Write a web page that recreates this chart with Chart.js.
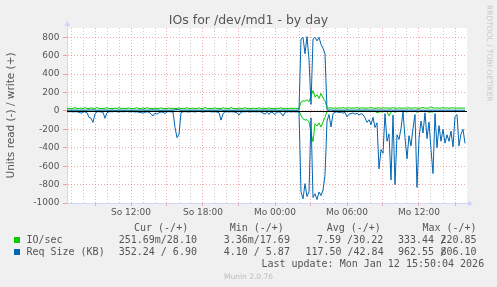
<!DOCTYPE html>
<html>
<head>
<meta charset="utf-8">
<script src="https://cdn.jsdelivr.net/npm/chart.js@4.4.1/dist/chart.umd.min.js"></script>
<style>
  html, body { margin: 0; padding: 0; background: #f0f0f0; }
  #wrap { position: relative; width: 497px; height: 287px; overflow: hidden; font-family: "DejaVu Sans", sans-serif; color: #555; }
  #wrap canvas { position: absolute; left: 0; top: 0; }
  .t { position: absolute; white-space: pre; }
  .mono { font-family: "DejaVu Sans Mono", monospace; font-size: 10px; line-height: 10px; }
  .box { position: absolute; width: 6px; height: 6px; left: 14px; }
</style>
</head>
<body>
<div id="wrap">
  <canvas id="iochart" width="497" height="287"></canvas>
  <div class="t" style="left:0;width:497px;text-align:center;top:14px;font-size:12.5px;line-height:12.5px;">IOs for /dev/md1 - by day</div>
  <div class="t" style="left:492.6px;top:5px;font-size:7.5px;line-height:7.5px;color:#c8c8c8;transform-origin:0 0;transform:rotate(90deg);">RRDTOOL / TOBI OETIKER</div>

  <div class="t mono" style="left:134px;top:222.6px;">Cur (-/+)</div>
  <div class="t mono" style="left:229.7px;top:222.6px;">Min (-/+)</div>
  <div class="t mono" style="left:326.7px;top:222.6px;">Avg (-/+)</div>
  <div class="t mono" style="left:422.4px;top:222.6px;">Max (-/+)</div>

  <div class="box" style="top:237px;background:#00cc00;"></div>
  <div class="t mono" style="left:26.4px;top:234.8px;">IO/sec</div>
  <div class="t mono" style="left:118.7px;top:234.8px;">251.69m/28.10</div>
  <div class="t mono" style="left:223.7px;top:234.8px;">3.36m/17.69</div>
  <div class="t mono" style="left:317px;top:234.8px;">7.59 /30.22</div>
  <div class="t mono" style="left:398px;top:234.8px;">333.44 /</div>
  <div class="t mono" style="left:440.4px;top:234.8px;">220.85</div>

  <div class="box" style="top:249px;background:#0066b3;"></div>
  <div class="t mono" style="left:26.4px;top:246.8px;">Req Size (KB)</div>
  <div class="t mono" style="left:118.7px;top:246.8px;">352.24 / 6.90</div>
  <div class="t mono" style="left:223.7px;top:246.8px;">4.10 / 5.87</div>
  <div class="t mono" style="left:305.4px;top:246.8px;">117.50 /42.84</div>
  <div class="t mono" style="left:398px;top:246.8px;">962.55 /</div>
  <div class="t mono" style="left:440.4px;top:246.8px;">806.10</div>

  <div class="t mono" style="left:261.4px;top:258.8px;">Last update: Mon Jan 12 15:50:04 2026</div>
  <div class="t" style="left:0;width:497px;text-align:center;top:273px;font-size:7.5px;line-height:7.5px;color:#bbbbbb;">Munin 2.0.76</div>
</div>

<script>
// one sample every 10 minutes, first one at So 06:40
var startHour = 6 + 40 / 60;

var tickHours = [12, 18, 24, 30, 36];
var tickLabels = ["So 12:00", "So 18:00", "Mo 00:00", "Mo 06:00", "Mo 12:00"];
var yTicks = [-1000, -900, -800, -700, -600, -500, -400, -300, -200, -100, 0, 100, 200, 300, 400, 500, 600, 700, 800, 900];

// Req Size (KB), read (drawn negative)
var sizeRead = [
  -8, -10, -6, -12, -8, -10, -14, -25, -12, -10,
  -20, -70, -80, -125, -30, -10, -8, -12, -15, -80,
  -20, -10, -8, -10, -6, -9, -12, -7, -10, -8,
  -6, -11, -9, -8, -12, -10, -15, -18, -25, -14,
  -10, -15, -30, -55, -25, -35, -20, -12, -15, -28,
  -10, -8, -10, -12, -180, -290, -255, -20, -10, -8,
  -10, -12, -7, -9, -11, -8, -6, -10, -12, -9,
  -8, -7, -10, -11, -9, -12, -20, -100, -30, -10,
  -8, -12, -9, -10, -14, -20, -45, -15, -9, -10,
  -7, -12, -8, -10, -9, -11, -8, -12, -25, -35,
  -15, -38, -12, -20, -40, -14, -10, -25, -55, -15,
  -10, -8, -12, -9, -11, -10, -14, -880, -955, -790,
  -930, -880, -75, -940, -900, -962.55, -880, -920, -860, -700,
  -110, -40, -175, -30, -15, -10, -18, -12, -25, -15,
  -65, -35, -28, -22, -35, -25, -45, -30, -40, -75,
  -125, -95, -150, -70, -180, -130, -630, -420, -460, -30,
  -330, -250, -750, -45, -800, -260, -310, -190, -10, -290,
  -520, -270, -380, -190, -40, -830, -300, -110, -240, -20,
  -300, -120, -420, -680, -30, -400, -160, -330, -200, -350,
  -260, -330, -220, -390, -60, -40, -380, -250, -200, -352.24
];

// Req Size (KB), write
var sizeWrite = [
  8, 9, 7, 8, 10, 8, 7, 9, 8, 8,
  9, 11, 10, 12, 8, 7, 8, 9, 8, 10,
  8, 7, 8, 9, 7, 8, 10, 8, 7, 8,
  9, 8, 7, 8, 9, 8, 10, 9, 11, 8,
  8, 9, 10, 11, 9, 10, 8, 7, 8, 9,
  8, 7, 8, 9, 12, 14, 13, 8, 7, 8,
  9, 8, 7, 8, 8, 9, 7, 8, 9, 8,
  7, 8, 9, 8, 7, 8, 9, 11, 8, 7,
  8, 9, 8, 7, 8, 9, 10, 8, 7, 8,
  8, 7, 9, 8, 7, 8, 9, 8, 9, 10,
  8, 10, 8, 9, 10, 8, 7, 9, 10, 8,
  8, 7, 9, 8, 7, 8, 9, 780, 800, 620,
  806.1, 560, 70, 780, 800, 760, 800, 720, 680, 620,
  12, 9, 11, 8, 7, 8, 9, 8, 9, 8,
  10, 9, 8, 9, 8, 9, 10, 8, 9, 10,
  9, 8, 10, 9, 8, 9, 10, 9, 8, 7,
  8, 9, 10, 7, 9, 8, 8, 9, 7, 8,
  9, 8, 9, 8, 7, 10, 8, 7, 8, 6,
  8, 7, 8, 9, 6, 8, 7, 8, 7, 8,
  7, 8, 7, 8, 6, 6, 8, 7, 7, 6.9
];

// IO/sec, read (drawn negative)
var ioRead = [
  -1.2, -0.8, -2.1, -1.5, -0.9, -1.8, -2.4, -1.1, -0.7, -1.6,
  -2.2, -3.5, -2.8, -4.0, -1.3, -0.9, -1.0, -1.4, -1.7, -3.1,
  -1.2, -0.8, -0.6, -1.1, -0.9, -1.3, -1.0, -0.7, -1.2, -0.9,
  -0.8, -1.1, -1.4, -0.9, -1.0, -1.3, -1.5, -1.9, -2.2, -1.4,
  -1.1, -1.6, -2.4, -3.0, -1.8, -2.1, -1.3, -1.0, -1.2, -1.9,
  -0.9, -0.8, -1.0, -1.1, -4.5, -6.0, -5.2, -1.3, -0.9, -0.7,
  -0.8, -1.0, -0.6, -0.9, -1.1, -0.7, -0.5, -0.9, -1.2, -0.8,
  -0.6, -0.7, -0.9, -1.0, -0.8, -1.1, -1.5, -3.2, -1.4, -0.9,
  -0.7, -1.0, -0.8, -0.9, -1.2, -1.4, -2.0, -1.1, -0.8, -0.9,
  -0.6, -1.0, -0.7, -0.9, -0.8, -1.0, -0.7, -1.1, -1.6, -2.0,
  -1.2, -2.2, -0.9, -1.4, -2.1, -1.0, -0.8, -1.5, -2.6, -1.1,
  -0.9, -0.7, -1.0, -0.8, -0.9, -1.0, -1.3, -50, -85, -100,
  -95, -120, -240, -333.44, -140, -165, -130, -175, -120, -70,
  -3.5, -1.8, -4.2, -1.5, -1.0, -0.8, -1.2, -0.9, -1.4, -1.0,
  -2.8, -1.6, -1.3, -1.1, -1.5, -1.2, -1.9, -1.4, -1.6, -2.5,
  -3.8, -3.0, -4.5, -2.4, -5.0, -20, -12, -9, -10, -1.5,
  -8, -55, -14, -1.8, -15, -6, -7, -5, -0.9, -6,
  -10, -6, -8, -5, -1.4, -15, -7, -3, -5, -0.8,
  -6, -15, -9, -12, -1.1, -8, -4, -7, -5, -7,
  -6, -7, -5, -8, -1.6, -1.2, -8, -6, -5, -0.25
];

// IO/sec, write
var ioWrite = [
  26, 30, 24, 28, 35, 25, 27, 31, 24, 36,
  27, 25, 33, 29, 24, 38, 26, 28, 25, 30,
  34, 24, 27, 25, 31, 26, 37, 24, 28, 25,
  29, 33, 24, 26, 28, 35, 25, 27, 32, 24,
  36, 26, 28, 24, 30, 27, 25, 34, 26, 28,
  24, 31, 26, 29, 25, 27, 33, 24, 28, 26,
  35, 25, 27, 30, 24, 28, 32, 26, 25, 37,
  27, 24, 29, 26, 33, 25, 28, 24, 36, 26,
  29, 25, 38, 26, 28, 24, 31, 27, 25, 35,
  26, 28, 24, 30, 27, 25, 34, 26, 29, 24,
  28, 33, 25, 27, 24, 30, 26, 35, 25, 28,
  27, 24, 31, 26, 29, 25, 28, 95, 110, 105,
  120, 100, 160, 220.85, 150, 175, 135, 190, 140, 110,
  32, 30, 34, 29, 31, 28, 33, 30, 35, 29,
  31, 34, 29, 32, 30, 36, 28, 31, 33, 30,
  29, 32, 35, 30, 28, 31, 34, 29, 33, 30,
  32, 29, 31, 35, 30, 28, 33, 30, 29, 32,
  30, 34, 29, 31, 33, 30, 28, 32, 36, 30,
  31, 29, 44, 32, 30, 33, 29, 31, 34, 30,
  32, 29, 31, 33, 30, 29, 32, 30, 31, 28.1
];

var times = [];
for (var i = 0; i < sizeRead.length; i++) times.push(startHour + i / 6);
function pts(vals) {
  return vals.map(function (v, i) { return { x: times[i], y: v }; });
}

var hourTicks = [];
for (var h = 7; h <= 39; h++) hourTicks.push(h);

var majorGrid = "rgba(225,100,100,0.55)";
var minorGrid = "rgba(160,160,160,0.55)";
var axisColor = "#cfd6f8";
var tickFont = { family: "DejaVu Sans", size: 9 };

var muninBits = {
  id: "muninBits",
  beforeDraw: function (chart) {
    var a = chart.chartArea, ctx = chart.ctx;
    ctx.save();
    ctx.fillStyle = "#ffffff";
    ctx.fillRect(a.left, a.top, a.right - a.left, a.bottom - a.top);
    ctx.restore();
  },
  afterDatasetsDraw: function (chart) {
    var a = chart.chartArea, ctx = chart.ctx;
    var y0 = Math.round(chart.scales.y.getPixelForValue(0)) + 0.5;
    ctx.save();
    ctx.strokeStyle = "#000000";
    ctx.lineWidth = 1;
    ctx.beginPath();
    ctx.moveTo(a.left, y0);
    ctx.lineTo(a.right, y0);
    ctx.stroke();
    ctx.restore();
  },
  afterDraw: function (chart) {
    var a = chart.chartArea, ctx = chart.ctx;
    var xl = Math.round(a.left) + 0.5, yb = Math.round(a.bottom) + 0.5;
    ctx.save();
    ctx.strokeStyle = axisColor;
    ctx.fillStyle = axisColor;
    ctx.lineWidth = 1;
    ctx.beginPath();
    ctx.moveTo(xl, a.top);
    ctx.lineTo(xl, a.top - 4);
    ctx.moveTo(a.right, yb);
    ctx.lineTo(a.right + 3, yb);
    ctx.stroke();
    ctx.beginPath();
    ctx.moveTo(xl - 3, a.top - 2);
    ctx.lineTo(xl + 3, a.top - 2);
    ctx.lineTo(xl, a.top - 7);
    ctx.closePath();
    ctx.fill();
    ctx.beginPath();
    ctx.moveTo(a.right + 1, yb - 3);
    ctx.lineTo(a.right + 1, yb + 3);
    ctx.lineTo(a.right + 6, yb);
    ctx.closePath();
    ctx.fill();
    ctx.restore();
  }
};

new Chart("iochart", {
  type: "line",
  data: {
    datasets: [
      { label: "Req Size (KB) read", data: pts(sizeRead), borderColor: "#0066b3" },
      { label: "Req Size (KB) write", data: pts(sizeWrite), borderColor: "#0066b3" },
      { label: "IO/sec read", data: pts(ioRead), borderColor: "#00cc00" },
      { label: "IO/sec write", data: pts(ioWrite), borderColor: "#00cc00" }
    ]
  },
  options: {
    responsive: false,
    devicePixelRatio: 1,
    animation: false,
    events: [],
    layout: { padding: { top: 28, right: 30, bottom: 0, left: 0 } },
    elements: {
      line: { borderWidth: 1, tension: 0, fill: false },
      point: { radius: 0 }
    },
    plugins: {
      legend: { display: false },
      title: { display: false },
      tooltip: { enabled: false }
    },
    scales: {
      x: {
        type: "linear",
        min: startHour,
        max: 40,
        afterFit: function (s) { s.height = 84; },
        afterBuildTicks: function (s) { s.ticks = hourTicks.map(function (v) { return { value: v }; }); },
        grid: {
          color: function (c) { return c.tick.value % 3 === 0 ? majorGrid : minorGrid; },
          tickColor: function (c) { return c.tick.value % 3 === 0 ? majorGrid : "rgba(0,0,0,0)"; },
          tickLength: 3,
          tickBorderDash: [10, 0]
        },
        border: { color: axisColor, dash: [1, 2] },
        ticks: {
          autoSkip: false,
          maxRotation: 0,
          padding: 1,
          color: "#555",
          font: tickFont,
          callback: function (v) {
            var k = tickHours.indexOf(v);
            return k < 0 ? "" : tickLabels[k];
          }
        }
      },
      y: {
        min: -1000,
        max: 900,
        afterFit: function (s) { s.width = 67; },
        afterBuildTicks: function (s) { s.ticks = yTicks.map(function (v) { return { value: v }; }); },
        grid: {
          color: function (c) { return c.tick.value % 200 === 0 ? majorGrid : minorGrid; },
          tickLength: 4,
          tickBorderDash: [10, 0]
        },
        border: { color: axisColor, dash: [1, 2] },
        ticks: {
          padding: 3.5,
          color: "#555",
          font: tickFont,
          callback: function (v) { return v % 200 === 0 ? String(v) : ""; }
        },
        title: {
          display: true,
          text: "Units read (-) / write (+)",
          color: "#555",
          font: { family: "DejaVu Sans", size: 10.5 },
          padding: { top: 5, bottom: 0 }
        }
      }
    }
  },
  plugins: [muninBits]
});
</script>
</body>
</html>
